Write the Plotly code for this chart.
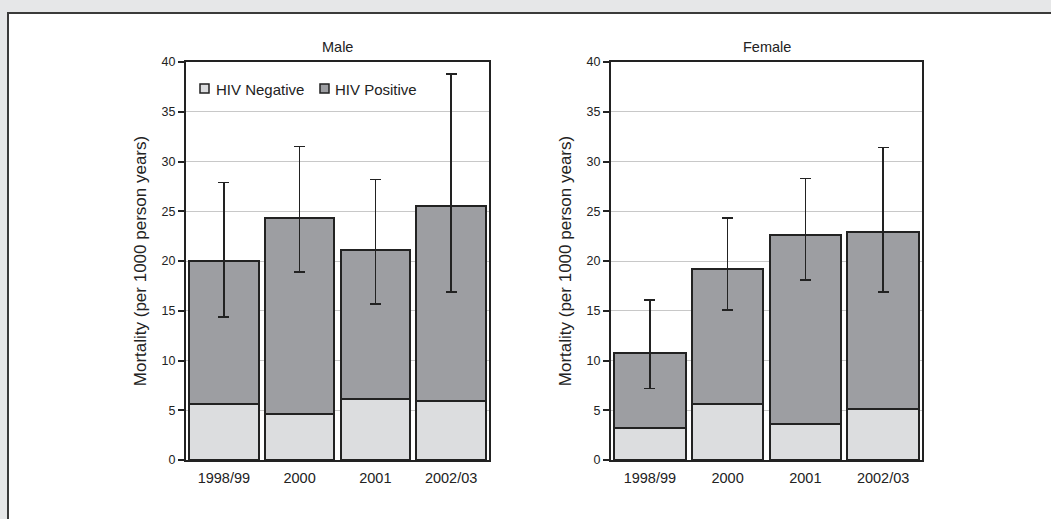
import plotly.graph_objects as go

categories = ["1998/99", "2000", "2001", "2002/03"]

male_negative = [5.6, 4.6, 6.1, 5.9]
male_total = [20.0, 24.3, 21.1, 25.5]
male_upper = [27.9, 31.5, 28.2, 38.8]
male_lower = [14.4, 18.9, 15.7, 16.9]

female_negative = [3.2, 5.6, 3.6, 5.1]
female_total = [10.8, 19.2, 22.6, 22.9]
female_upper = [16.1, 24.3, 28.3, 31.4]
female_lower = [7.2, 15.1, 18.1, 16.9]

y_ticks = [0, 5, 10, 15, 20, 25, 30, 35, 40]
legend_labels = ["HIV Negative", "HIV Positive"]

W, H = 1051, 519
NEG_COLOR = "#dcdddf"
POS_COLOR = "#9d9ea2"
LINE_COLOR = "#222222"
FONT = "Liberation Sans, Arial, sans-serif"

fig = go.Figure()


def add_panel(neg, total, upper, lower, xa, ya):
    pos = [t - n for t, n in zip(total, neg)]
    plus = [u - t for u, t in zip(upper, total)]
    minus = [t - l for t, l in zip(total, lower)]
    fig.add_trace(go.Bar(
        x=categories, y=neg, name=legend_labels[0],
        marker=dict(color=NEG_COLOR, line=dict(color=LINE_COLOR, width=2)),
        xaxis=xa, yaxis=ya, showlegend=False,
    ))
    fig.add_trace(go.Bar(
        x=categories, y=pos, name=legend_labels[1],
        marker=dict(color=POS_COLOR, line=dict(color=LINE_COLOR, width=2)),
        error_y=dict(type="data", symmetric=False, array=plus, arrayminus=minus,
                     color=LINE_COLOR, thickness=1.6, width=5.5),
        xaxis=xa, yaxis=ya, showlegend=False,
    ))


add_panel(male_negative, male_total, male_upper, male_lower, "x", "y")
add_panel(female_negative, female_total, female_upper, female_lower, "x2", "y2")

ydom = [1 - 460 / H, 1 - 62 / H]
axis_common_y = dict(
    range=[0, 40], tickvals=y_ticks, ticks="outside", ticklen=6, tickwidth=1.5,
    tickcolor=LINE_COLOR, showline=True, linecolor=LINE_COLOR, linewidth=2,
    mirror=True, showgrid=True, gridcolor="#c8c8c8", gridwidth=1,
    zeroline=False, automargin=False,
    tickfont=dict(size=12.5, color="#222", family=FONT),
    title=dict(text="Mortality (per 1000 person years)",
               font=dict(size=17, color="#222", family=FONT), standoff=11),
    domain=ydom,
)
axis_common_x = dict(
    showline=True, linecolor=LINE_COLOR, linewidth=2, mirror=True,
    ticks="outside", ticklen=4, tickcolor="rgba(0,0,0,0)", showgrid=False,
    automargin=False,
    tickfont=dict(size=14.5, color="#222", family=FONT),
)


def px(x):
    return x / W


def py(y):
    return 1 - y / H


shapes = [
    dict(type="rect", xref="paper", yref="paper", layer="below",
         x0=px(8), x1=1.05, y0=-0.05, y1=py(13),
         fillcolor="white", line=dict(color="#3a3a3a", width=2)),
]
annotations = [
    dict(text="Male", x=px((186 + 489) / 2), y=py(47), xref="paper", yref="paper",
         xanchor="center", yanchor="middle",
         showarrow=False, font=dict(size=14.5, color="#222", family=FONT)),
    dict(text="Female", x=px((611 + 922) / 2), y=py(47), xref="paper", yref="paper",
         xanchor="center", yanchor="middle",
         showarrow=False, font=dict(size=14.5, color="#222", family=FONT)),
]

# legend (drawn inside the male panel)
legend_items = [(200, 214, NEG_COLOR), (320, 333, POS_COLOR)]
for label, (sx, tx, col) in zip(legend_labels, legend_items):
    shapes.append(dict(type="rect", xref="paper", yref="paper",
                       x0=px(sx), x1=px(sx + 9), y0=py(93), y1=py(84),
                       fillcolor=col, line=dict(color=LINE_COLOR, width=1.5)))
    annotations.append(dict(text=label, x=px(tx), y=py(89), xref="paper", yref="paper",
                            xanchor="left", yanchor="middle", showarrow=False,
                            font=dict(size=15, color="#222", family=FONT)))

fig.update_layout(
    width=W, height=H,
    margin=dict(l=0, r=0, t=0, b=0, autoexpand=False),
    paper_bgcolor="#e6e7e8",
    plot_bgcolor="white",
    barmode="stack",
    bargap=0.08,
    showlegend=False,
    font=dict(family=FONT, color="#222"),
    xaxis=dict(domain=[px(186), px(489)], anchor="y", **axis_common_x),
    xaxis2=dict(domain=[px(611), px(922)], anchor="y2", **axis_common_x),
    yaxis=dict(anchor="x", **axis_common_y),
    yaxis2=dict(anchor="x2", **axis_common_y),
    shapes=shapes,
    annotations=annotations,
)

fig.write_html("out.html")
